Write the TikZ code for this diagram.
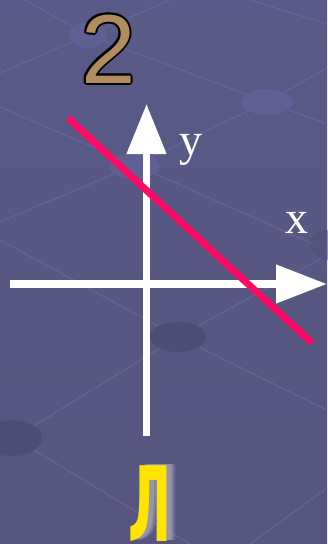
\documentclass[tikz,border=0pt]{standalone}
\usepackage{fontspec}
\setmainfont{Liberation Serif}
\newfontfamily\digitfont{Liberation Sans}
\newfontfamily\cyrfont{DejaVu Sans}
\usetikzlibrary{arrows.meta}
\definecolor{bgtop}{HTML}{5A5A88}
\definecolor{bgbot}{HTML}{56557D}
\definecolor{bgline}{HTML}{66669A}
\definecolor{spotlight}{HTML}{5F5F94}
\definecolor{spotdark}{HTML}{4E4D74}
\definecolor{redline}{HTML}{FF0A64}
\definecolor{tan}{HTML}{B08C60}
\definecolor{goldy}{HTML}{FFE400}
\definecolor{glow}{HTML}{B8B8CC}
\tikzset{
  bgln/.style={bgline, line width=0.9pt},
  axis/.style={white, line width=7.5pt},
  lbl/.style={white, anchor=base, inner sep=0pt, font=\fontsize{46}{50}\selectfont},
  two/.style={anchor=base, inner sep=0pt, font=\digitfont\fontsize{98}{100}\selectfont},
  el/.style={anchor=base, inner sep=0pt, xscale=0.5, font=\cyrfont\bfseries\fontsize{104}{110}\selectfont},
}
\begin{document}
\begin{tikzpicture}[x=1pt,y=-1pt]
\useasboundingbox (0,0) rectangle (327,544);
\shade[top color=bgtop, bottom color=bgbot] (0,0) rectangle (327,544);
% background grid lines
\draw[bgln] (0,73) -- (170,0);
\draw[bgln] (25,0) -- (88,35) -- (267,102) -- (327,124);
\draw[bgln] (267,102) -- (327,68);
\draw[bgln] (250,0) -- (327,24);
\draw[bgln] (0,107) -- (135,165) -- (267,102);
\draw[bgln] (0,222) -- (135,165);
\draw[bgln] (0,240) -- (178,337) -- (327,410);
\draw[bgln] (178,337) -- (14,438);
\draw[bgln] (178,337) -- (300,270) -- (327,255);
\draw[bgln] (14,438) -- (190,544);
\draw[bgln] (327,488) -- (250,544);
\draw[bgln] (135,165) -- (327,250);
% spots
\fill[spotlight] (88,35) ellipse (19 and 13);
\fill[spotlight] (267,102) ellipse (26 and 13);
\fill[spotlight] (135,166) ellipse (25 and 13);
\fill[spotdark] (178,337) ellipse (28 and 15);
\fill[spotdark] (12,438) ellipse (30 and 18);
\fill[spotdark, opacity=0.5] (330,245) ellipse (20 and 15);
% axes
\coordinate (ystart) at (146.5,436);
\coordinate (yend) at (146.5,104);
\coordinate (xstart) at (10,284);
\coordinate (xend) at (327,284);
\draw[axis, -{Triangle[length=50pt,width=38pt]}] (ystart) -- (yend);
\draw[axis, -{Triangle[length=51pt,width=37pt]}] (xstart) -- (xend);
% red line
\coordinate (ra) at (68,118);
\coordinate (rb) at (312,343);
\draw[redline, line width=7pt] (ra) -- (rb);
% labels
\node[lbl] (ylab) at (190.5,155) {y};
\node[lbl] (xlab) at (297,233) {x};
% number 2 with outline
\foreach \dx/\dy in {2/0,-2/0,0/2,0/-2,1.4/1.4,-1.4/1.4,1.4/-1.4,-1.4/-1.4}{
  \node[two, black] at (108.5+\dx,83+\dy) {2};
}
\node[two, tan] (two) at (108.5,83) {2};
% Cyrillic letter with glow
\foreach \dx/\dy/\op in {9/-1/0.2,7/-1/0.3,5/-1/0.4}{
  \node[el, glow, opacity=\op] at (150+\dx,541+\dy) {Л};
}
\node[el, goldy] (el) at (150,541) {Л};
\end{tikzpicture}
\end{document}
